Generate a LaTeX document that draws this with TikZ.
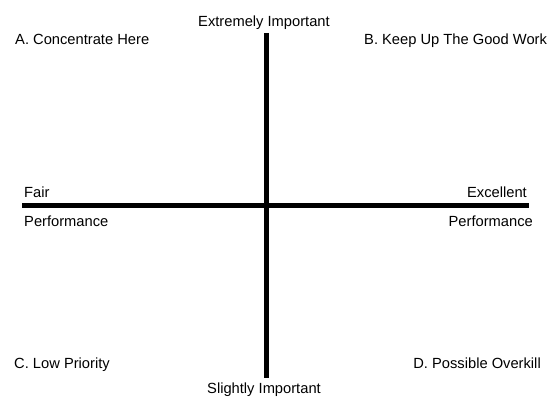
\documentclass[tikz,border=0pt]{standalone}
\usepackage{fontspec}
\setmainfont{Liberation Sans}
\begin{document}
\begin{tikzpicture}[x=1pt,y=-1pt,
  lbl/.style={inner sep=0pt, font=\fontsize{14.7}{17}\selectfont},
  axis/.style={line width=5pt, black}]
\useasboundingbox (0,0) rectangle (547,398);
% axes end points
\coordinate (top) at (266,33);
\coordinate (bottom) at (266,378);
\coordinate (left) at (22,205.5);
\coordinate (right) at (529,205.5);
\draw[axis] (top) -- (bottom);
\draw[axis] (left) -- (right);
% axis labels
\node[lbl, anchor=base] (imp) at (264,27) {Extremely Important};
\node[lbl, anchor=base] (slight) at (264,394) {Slightly Important};
\node[lbl, anchor=base west] (fair) at (24,198) {Fair};
\node[lbl, anchor=base west] (perfl) at (24,227) {Performance};
\node[lbl, anchor=base east] (exc) at (527,198) {Excellent};
\node[lbl, anchor=base east] (perfr) at (533,227) {Performance};
% quadrant labels
\node[lbl, anchor=base west] (qa) at (15,45) {A. Concentrate Here};
\node[lbl, anchor=base west] (qb) at (364,45) {B. Keep Up The Good Work};
\node[lbl, anchor=base west] (qc) at (14,369) {C. Low Priority};
\node[lbl, anchor=base east] (qd) at (541,369) {D. Possible Overkill};
\end{tikzpicture}
\end{document}
